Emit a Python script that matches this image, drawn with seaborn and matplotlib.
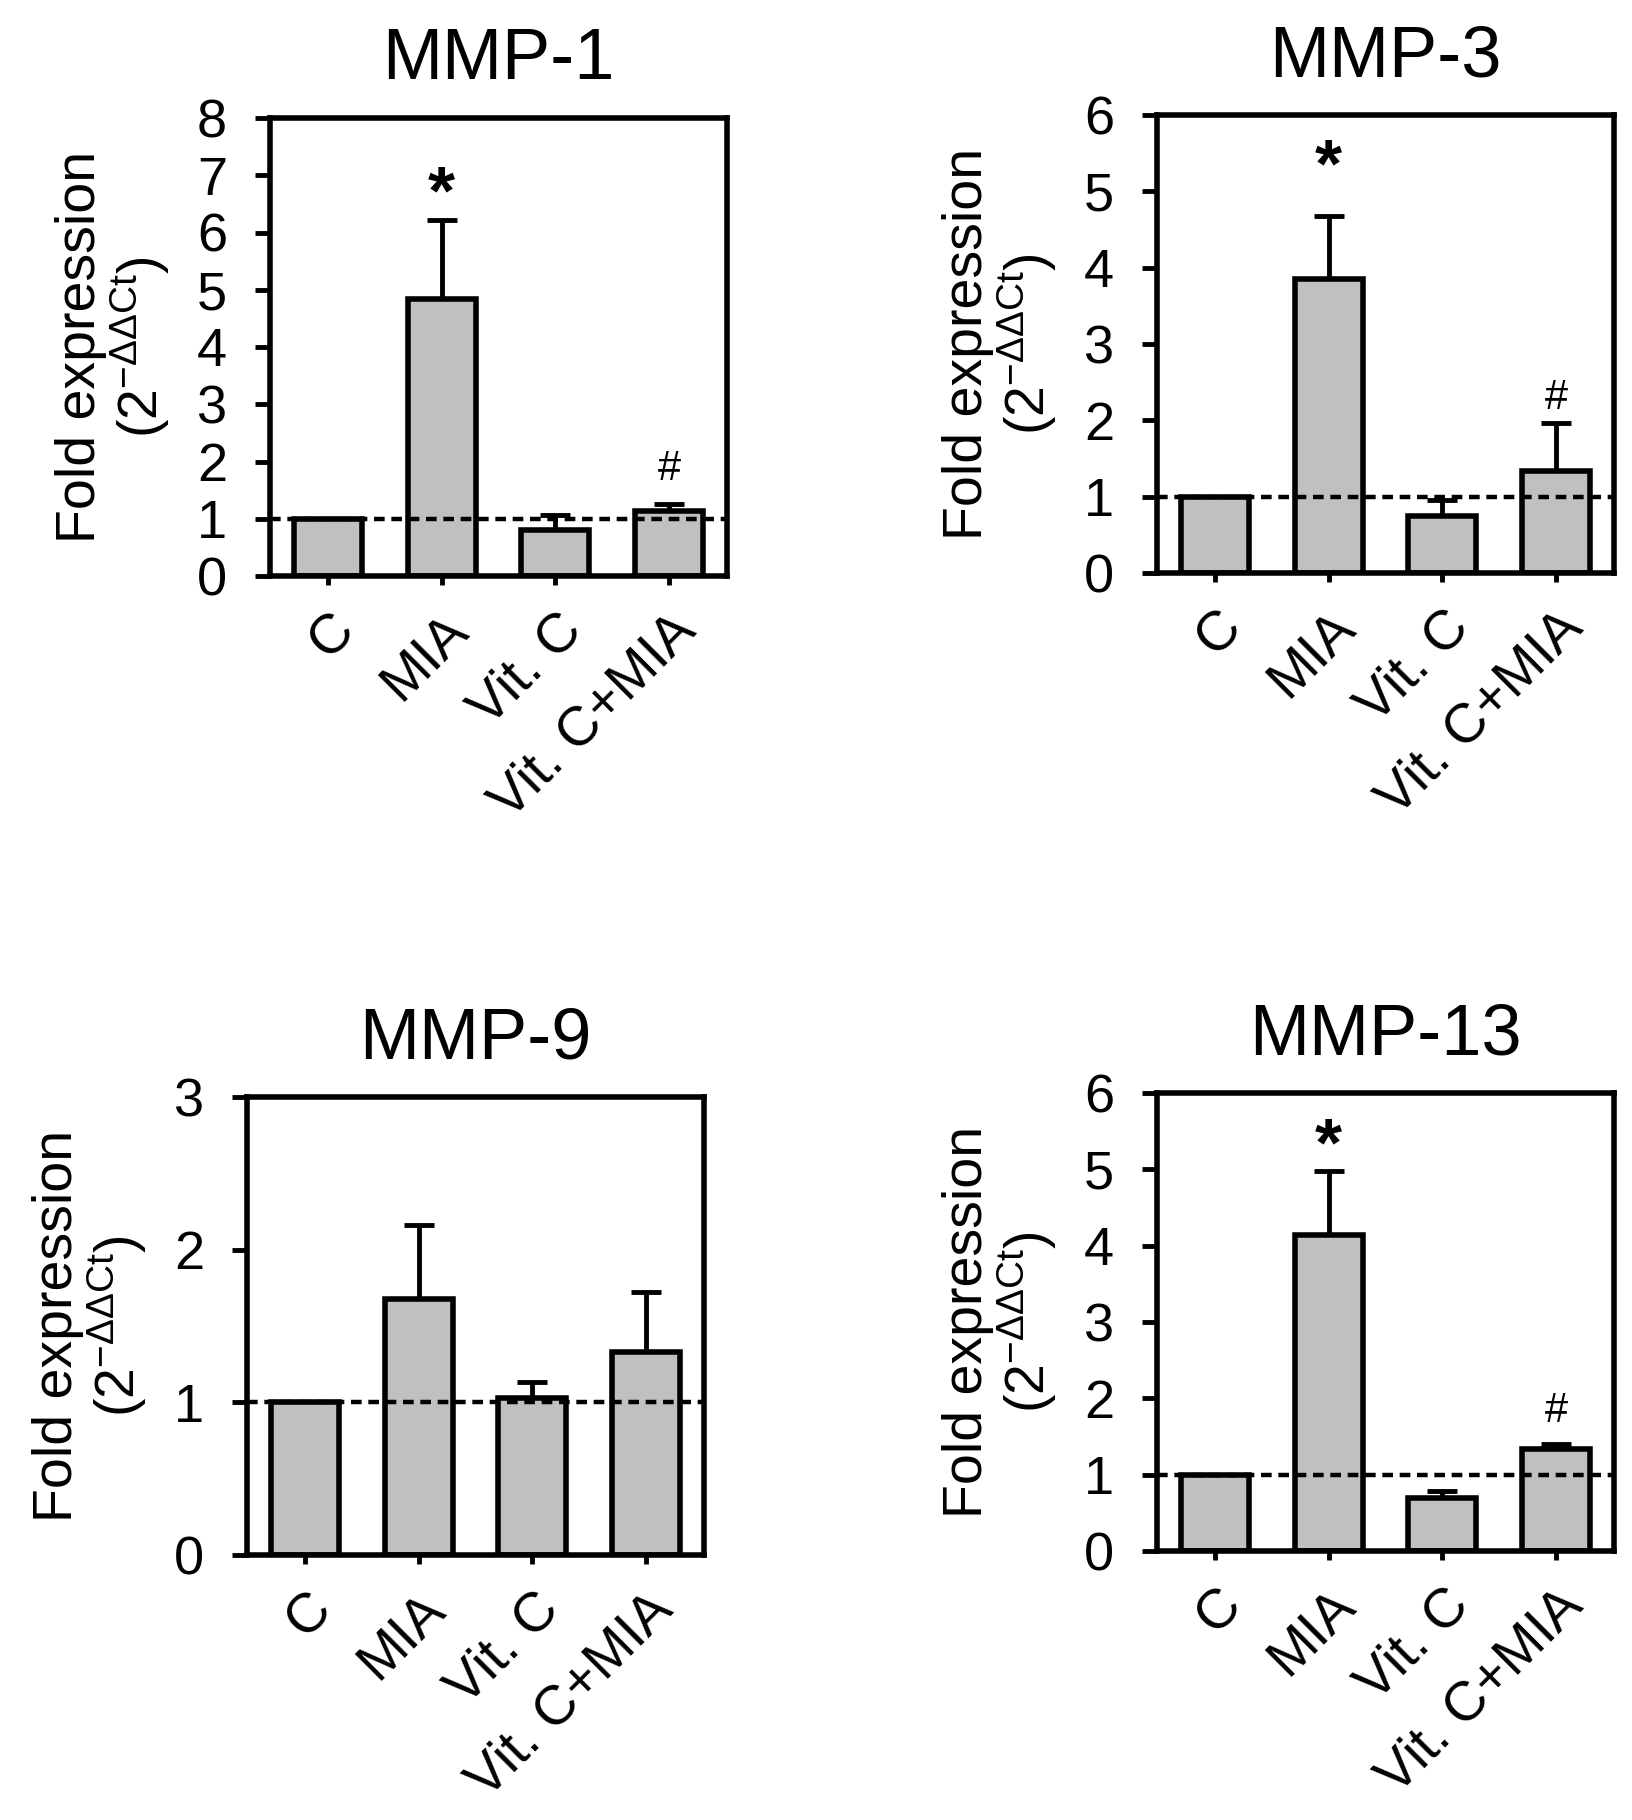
import numpy as np
import pandas as pd
import matplotlib
matplotlib.use('Agg')
import matplotlib.pyplot as plt
import seaborn as sns

# groups and values (mean fold expression, upper SEM)
groups = ['C', 'MIA', 'Vit. C', 'Vit. C+MIA']

mmp1_mean = [1.0, 4.83, 0.80, 1.13]
mmp1_err = [0.0, 1.38, 0.27, 0.13]
mmp3_mean = [1.0, 3.85, 0.75, 1.34]
mmp3_err = [0.0, 0.83, 0.21, 0.62]
mmp9_mean = [1.0, 1.68, 1.03, 1.33]
mmp9_err = [0.0, 0.48, 0.10, 0.39]
mmp13_mean = [1.0, 4.14, 0.69, 1.34]
mmp13_err = [0.0, 0.84, 0.10, 0.06]

# significance marks: (group index, symbol, y position)
mmp1_marks = [(1, '*', 6.9), (3, '#', 1.94)]
mmp3_marks = [(1, '*', 5.48), (3, '#', 2.34)]
mmp9_marks = []
mmp13_marks = [(1, '*', 5.47), (3, '#', 1.89)]

sns.set_style('ticks')
plt.rcParams['font.family'] = ['Liberation Sans', 'DejaVu Sans']
plt.rcParams['mathtext.fontset'] = 'custom'
plt.rcParams['mathtext.rm'] = 'Liberation Sans'
plt.rcParams['mathtext.it'] = 'Liberation Sans:italic'
plt.rcParams['mathtext.bf'] = 'Liberation Sans:bold'
for key in ['text.color', 'axes.labelcolor', 'xtick.color', 'ytick.color',
            'axes.edgecolor']:
    plt.rcParams[key] = 'black'

W, H = 1632, 1820
fig = plt.figure(figsize=(W / 100, H / 100), dpi=100)


def draw_panel(left_px, bottom_px, title, means, errs, ymax, marks):
    ax = fig.add_axes([left_px / W, 1 - bottom_px / H, 457 / W, 458 / H])
    df = pd.DataFrame({'group': groups, 'value': means})
    sns.barplot(data=df, x='group', y='value', color='#c0c0c0', saturation=1,
                edgecolor='black', linewidth=4, width=0.6, errorbar=None,
                ax=ax, zorder=2)
    idx = [i for i, e in enumerate(errs) if e > 0]
    ax.errorbar(idx, [means[i] for i in idx],
                yerr=[[0] * len(idx), [errs[i] for i in idx]],
                fmt='none', ecolor='black', elinewidth=3.5, capsize=11,
                capthick=3.5, zorder=1)
    ax.axhline(1, color='black', lw=3.2, ls=(0, (2.4, 1.5)), zorder=3)

    ax.set_xlim(-0.51, 3.51)
    ax.set_ylim(0, ymax)
    ax.set_yticks(range(ymax + 1))
    ax.set_xlabel('')
    ax.set_ylabel('')
    for s in ax.spines.values():
        s.set_visible(True)
        s.set_linewidth(4)
        s.set_color('black')
    ax.tick_params(axis='y', direction='out', length=11, width=3.5,
                   labelsize=39, pad=20)
    ax.tick_params(axis='x', direction='out', length=6.5, width=3.5,
                   labelsize=40, pad=14)
    plt.setp(ax.get_xticklabels(), rotation=45, ha='right', va='top',
             rotation_mode='anchor')
    ax.set_title(title, fontsize=52, pad=28)

    # two-line y label
    ax.annotate('Fold expression', xy=(0, 0.5), xycoords='axes fraction',
                xytext=(-175, 0), textcoords='offset pixels', rotation=90,
                rotation_mode='anchor', ha='center', va='baseline',
                fontsize=40)
    ax.annotate(r'$(2^{-\Delta\Delta \mathrm{Ct}})$', xy=(0, 0.5),
                xycoords='axes fraction', xytext=(-112, 0),
                textcoords='offset pixels', rotation=90,
                rotation_mode='anchor', ha='center', va='baseline',
                fontsize=40)

    for i, sym, y in marks:
        if sym == '*':
            ax.annotate(sym, xy=(i, y), xytext=(0, -32),
                        textcoords='offset pixels', ha='center',
                        va='baseline', fontsize=50, fontweight='bold')
        else:
            ax.annotate(sym, xy=(i, y), xytext=(0, -4),
                        textcoords='offset pixels', ha='center',
                        va='center', fontsize=30)
    return ax


draw_panel(270, 576, 'MMP-1', mmp1_mean, mmp1_err, 8, mmp1_marks)
draw_panel(1157, 573, 'MMP-3', mmp3_mean, mmp3_err, 6, mmp3_marks)
draw_panel(247, 1555, 'MMP-9', mmp9_mean, mmp9_err, 3, mmp9_marks)
draw_panel(1157, 1551, 'MMP-13', mmp13_mean, mmp13_err, 6, mmp13_marks)

fig.savefig('out.png', dpi=100, facecolor='white')
